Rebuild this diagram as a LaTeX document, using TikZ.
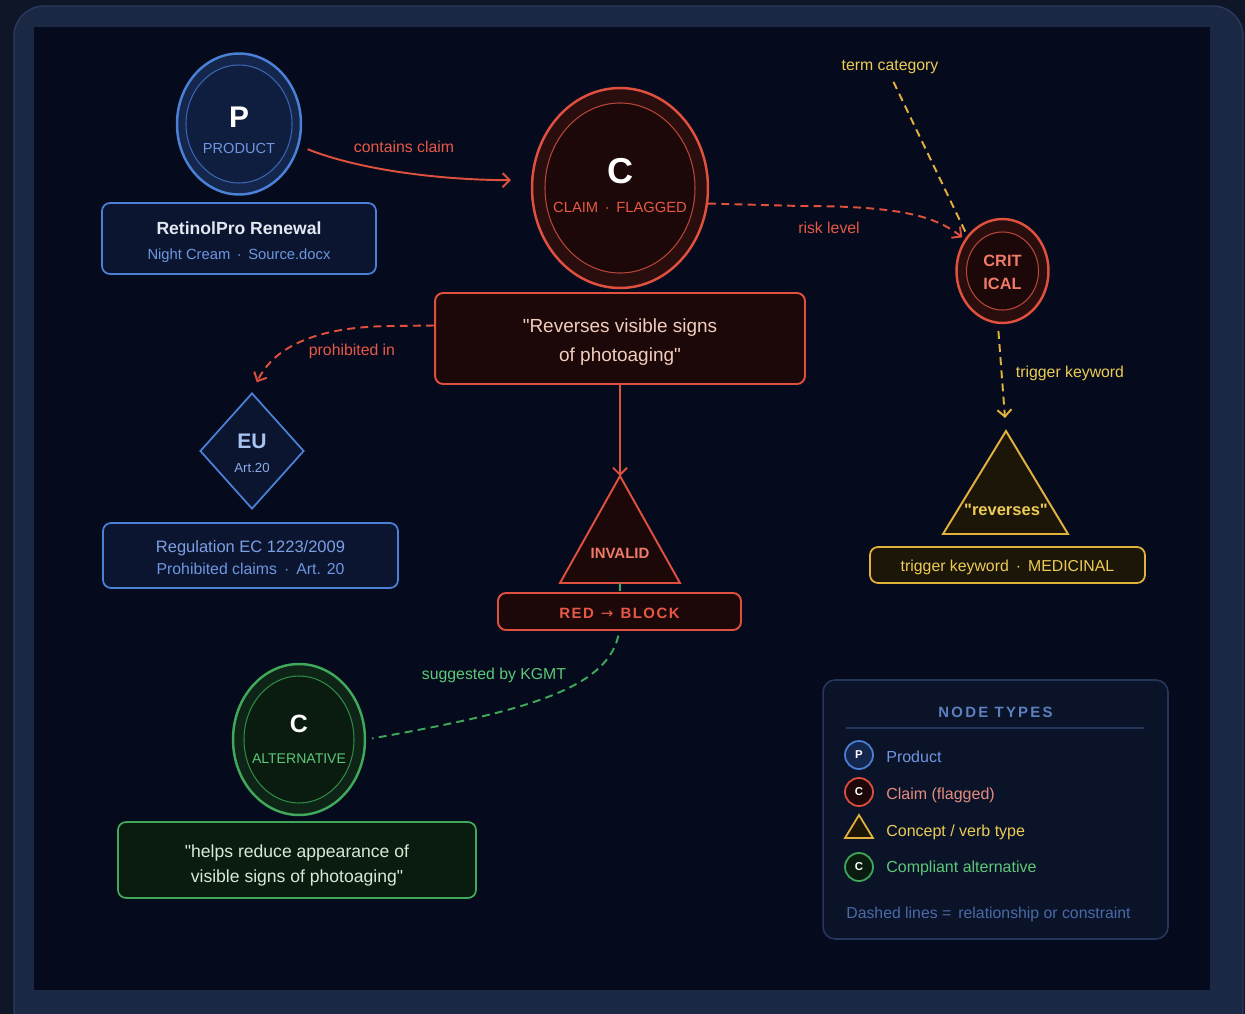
\documentclass[tikz,border=0pt]{standalone}
\usepackage{fontspec}
\setmainfont{Liberation Sans}
\newfontfamily\arrowfont{DejaVu Sans}
\usetikzlibrary{shapes.geometric,arrows.meta}
\newcommand\fsz[1]{\fontsize{#1pt}{#1pt}\selectfont}
\newcommand\dq{\textquotedbl}
\definecolor{bgout}{HTML}{0E1628}
\definecolor{framec}{HTML}{1B2844}
\definecolor{frameline}{HTML}{2A3A5C}
\definecolor{innerbg}{HTML}{050B1C}
\definecolor{bluestroke}{HTML}{4A80D6}
\definecolor{bluein}{HTML}{3A66B0}
\definecolor{bluefillA}{HTML}{15264D}
\definecolor{bluefillB}{HTML}{0F1D3E}
\definecolor{bluetext}{HTML}{6E96E0}
\definecolor{bluelight}{HTML}{A9C3F0}
\definecolor{boxblue}{HTML}{0B1530}
\definecolor{redstroke}{HTML}{E0503E}
\definecolor{redin}{HTML}{B8443A}
\definecolor{redfillA}{HTML}{2A0E0E}
\definecolor{redfillB}{HTML}{1C0808}
\definecolor{redtext}{HTML}{E65848}
\definecolor{redlight}{HTML}{F07A68}
\definecolor{quotetext}{HTML}{F2CDBE}
\definecolor{yel}{HTML}{E3B23C}
\definecolor{yelfill}{HTML}{1C1608}
\definecolor{yeltext}{HTML}{EDCB55}
\definecolor{grn}{HTML}{3FA85A}
\definecolor{grnin}{HTML}{2F8A48}
\definecolor{grnfillA}{HTML}{0E2416}
\definecolor{grnfillB}{HTML}{0A1C10}
\definecolor{grntext}{HTML}{5CC878}
\definecolor{alttext}{HTML}{D6EBD6}
\definecolor{legborder}{HTML}{26365A}
\definecolor{legfill}{HTML}{0A1328}
\definecolor{legdash}{HTML}{4A6AA8}
\definecolor{legpink}{HTML}{E58C80}
\definecolor{titletext}{HTML}{E2E8F2}
\begin{document}
\begin{tikzpicture}[x=0.02cm,y=-0.02cm,
  txt/.style={inner sep=0pt, anchor=base},
  lbl/.style={txt, font=\fsz{9}},
  dsh/.style={dash pattern=on 4.5pt off 3pt},
  tipA/.style={-{Straight Barb[length=4pt,width=8pt]}},
  redline/.style={draw=redstroke, line width=1.1pt},
  yelline/.style={draw=yel, line width=1.1pt},
  grnline/.style={draw=grn, line width=1.1pt},
  bigcirc/.style={ellipse, inner sep=0pt, line width=1.4pt},
  panel/.style={rectangle, rounded corners=0.16cm, inner sep=0pt, line width=1pt},
  legicon/.style={circle, inner sep=0pt, minimum size=0.56cm, line width=1pt, text=white, font=\bfseries\fsz{6.5}}
]
\useasboundingbox (0,0) rectangle (1245,1014);
\fill[bgout] (0,0) rectangle (1245,1014);
\clip (0,0) rectangle (1245,1014);
\draw[frameline, line width=0.8pt, fill=framec, rounded corners=0.6cm] (14,6) rectangle (1243,1040);
\fill[innerbg] (34,27) rectangle (1210,990);

% ---------- Product ----------
\node[bigcirc, draw=bluestroke, fill=bluefillA, minimum width=2.48cm, minimum height=2.82cm] (prod) at (239,124) {};
\draw[bluein, line width=0.6pt, fill=bluefillB] (prod.center) ellipse [x radius=53, y radius=59];
\node[txt, text=white, font=\bfseries\fsz{17}] (prodP) at (239,127) {P};
\node[txt, text=bluetext, font=\fsz{8.3}] (prodL) at (239,153) {PRODUCT};
\node[panel, draw=bluestroke, fill=boxblue, minimum width=5.48cm, minimum height=1.42cm] (prodbox) at (239,238.5) {};
\node[txt, text=titletext, font=\bfseries\fsz{10}] (prodT) at (239,234) {RetinolPro Renewal};
\node[txt, text=bluetext, font=\fsz{8.4}] (prodS) at (239,259) {Night Cream \,·\, Source.docx};

% ---------- Claim ----------
\node[bigcirc, draw=redstroke, fill=redfillA, minimum width=3.52cm, minimum height=4cm] (claim) at (620,188) {};
\draw[redin, line width=0.6pt, fill=redfillB] (claim.center) ellipse [x radius=75, y radius=85];
\node[txt, text=white, font=\bfseries\fsz{20.5}] (claimC) at (620,183) {C};
\node[txt, text=redtext, font=\fsz{8.4}] (claimL) at (620,212) {CLAIM \,·\, FLAGGED};
\node[panel, draw=redstroke, line width=1.1pt, fill=redfillB, minimum width=7.4cm, minimum height=1.82cm] (quote) at (620,338.5) {};
\node[txt, text=quotetext, font=\fsz{10.8}] (quoteA) at (620,332) {\dq Reverses visible signs};
\node[txt, text=quotetext, font=\fsz{10.8}] (quoteB) at (620,361) {of photoaging\dq};

% ---------- CRIT ----------
\node[bigcirc, draw=redstroke, fill=redfillA, minimum width=1.84cm, minimum height=2.08cm] (crit) at (1002.5,271) {};
\draw[redin, line width=0.6pt, fill=redfillB] (crit.center) ellipse [x radius=36, y radius=39];
\node[txt, text=redlight, font=\bfseries\fsz{9.3}] (critA) at (1002.5,266.5) {CRIT};
\node[txt, text=redlight, font=\bfseries\fsz{9.3}] (critB) at (1002.5,289) {ICAL};

% ---------- EU ----------
\node[diamond, draw=bluestroke, line width=1pt, fill=boxblue, inner sep=0pt, minimum width=2.08cm, minimum height=2.32cm] (eu) at (252,451) {};
\node[txt, text=bluelight, font=\bfseries\fsz{12}] (euA) at (252,448) {EU};
\node[txt, text=bluetext!80!white, font=\fsz{7.5}] (euB) at (252,472) {Art.20};
\node[panel, draw=bluestroke, fill=boxblue, minimum width=5.9cm, minimum height=1.3cm] (eubox) at (250.5,555.5) {};
\node[txt, text=bluetext!90!white, font=\fsz{9.4}] (euT) at (250.5,552) {Regulation EC 1223/2009};
\node[txt, text=bluetext, font=\fsz{9}] (euS) at (250.5,574) {Prohibited claims \,·\, Art. 20};

% ---------- INVALID triangle ----------
\draw[redstroke, line width=1.1pt, fill=redfillB, line join=miter] (620,476) -- (680,583) -- (560,583) -- cycle;
\coordinate (invtop) at (620,476);
\coordinate (invbot) at (620,583);
\node[txt, text=redlight, font=\bfseries\fsz{8.5}] (invalid) at (620,558) {INVALID};

% ---------- Reverses triangle ----------
\draw[yel, line width=1.1pt, fill=yelfill, line join=miter] (1006,431) -- (1068,534) -- (943,534) -- cycle;
\coordinate (revtop) at (1006,431);
\node[txt, text=yeltext, font=\bfseries\fsz{9.4}] (rev) at (1006,515) {\dq reverses\dq};
\node[panel, draw=yel, fill=yelfill, minimum width=5.5cm, minimum height=0.72cm] (trigbox) at (1007.5,565) {};
\node[txt, text=yeltext, font=\fsz{9}] (trigT) at (1007.5,571.5) {trigger keyword \,·\, MEDICINAL};

% ---------- Alternative ----------
\node[bigcirc, draw=grn, fill=grnfillA, minimum width=2.64cm, minimum height=3.02cm] (alt) at (299,739.5) {};
\draw[grnin, line width=0.6pt, fill=grnfillB] (alt.center) ellipse [x radius=55, y radius=63.5];
\node[txt, text=white, font=\bfseries\fsz{14.2}] (altC) at (299,732) {C};
\node[txt, text=grntext, font=\fsz{8}] (altL) at (299,763) {ALTERNATIVE};
\node[panel, draw=grn, fill=grnfillB, minimum width=7.16cm, minimum height=1.52cm] (altbox) at (297,860) {};
\node[txt, text=alttext, font=\fsz{10}] (altA) at (297,857) {\dq helps reduce appearance of};
\node[txt, text=alttext, font=\fsz{10}] (altB) at (297,882) {visible signs of photoaging\dq};

% ---------- connectors ----------
\draw[redline, tipA, shorten <=0.18cm, shorten >=0.4cm] (prod.-20) .. controls (360,170) and (440,180) .. (claim.175);
\node[lbl, text=redtext] (lblContains) at (404,152) {contains claim};

\draw[redline, dsh, tipA, shorten >=0.06cm] (claim.-10) -- (800,206) .. controls (900,206) and (935,216) .. (crit.140);
\node[lbl, text=redtext] (lblRisk) at (829,233) {risk level};

\node[lbl, text=yeltext] (lblTerm) at (890,71) {term category};
\draw[yelline, dsh, shorten <=0.16cm] (lblTerm.south) -- (crit.135);

\draw[yelline, dsh, tipA, shorten <=0.14cm, shorten >=0.26cm] (crit.265) -- (revtop);
\node[lbl, text=yeltext] (lblTrig) at (1070,377) {trigger keyword};

\draw[redline, dsh, tipA, shorten >=0.22cm] (quote.176) -- (395,326) .. controls (320,326) and (275,345) .. (eu.north);
\node[lbl, text=redtext] (lblProh) at (352,355) {prohibited in};

\draw[redline, tipA] (quote.south) -- (invtop);

\draw[grnline, dsh, shorten >=0.12cm] (invbot) -- (619,632) .. controls (610,690) and (520,712) .. (alt.east);
\node[lbl, text=grntext] (lblSugg) at (494,679) {suggested by KGMT};

% block box drawn over the green line
\node[panel, draw=redstroke, line width=1.1pt, fill=redfillB, minimum width=4.86cm, minimum height=0.74cm] (blockbox) at (619.5,611.5) {};
\node[txt, text=redtext, font=\bfseries\fsz{8.5}\addfontfeatures{LetterSpace=10}] (blockT) at (619.5,618) {RED\hspace{4pt}{\arrowfont\mdseries\fsz{8.5}→}\hspace{4pt}BLOCK};

% ---------- legend ----------
\node[rectangle, rounded corners=0.24cm, draw=legborder, line width=0.9pt, fill=legfill, minimum width=6.9cm, minimum height=5.18cm, inner sep=0pt] (legend) at (995.5,809.5) {};
\node[txt, text=bluetext!85!black, font=\bfseries\fsz{8.5}\addfontfeatures{LetterSpace=15}] (legT) at (995.5,717) {NODE TYPES};
\coordinate (legL) at (846,728);
\coordinate (legR) at (1144,728);
\draw[legborder, line width=0.8pt] (legL) -- (legR);
\node[legicon, draw=bluestroke, fill=bluefillA] (icP) at (859,755) {P};
\node[legicon, draw=redstroke, fill=redfillB] (icC) at (859,792) {C};
\draw[yel, line width=1pt, fill=yelfill, line join=miter] (859,815) -- (873,838) -- (845,838) -- cycle;
\coordinate (icT) at (859,829);
\node[legicon, draw=grn, fill=grnfillB] (icG) at (859,867) {C};
\node[txt, anchor=base west, text=bluetext, font=\fsz{9.1}] (legP) at (886,762) {Product};
\node[txt, anchor=base west, text=legpink, font=\fsz{9.1}] (legC) at (886,799) {Claim (flagged)};
\node[txt, anchor=base west, text=yeltext, font=\fsz{9.1}] (legY) at (886,836) {Concept / verb type};
\node[txt, anchor=base west, text=grntext, font=\fsz{9.1}] (legG) at (886,872) {Compliant alternative};
\node[txt, anchor=base west, text=legdash, font=\fsz{9}] (legD) at (846,918) {Dashed lines = \,relationship or constraint};
\end{tikzpicture}
\end{document}
